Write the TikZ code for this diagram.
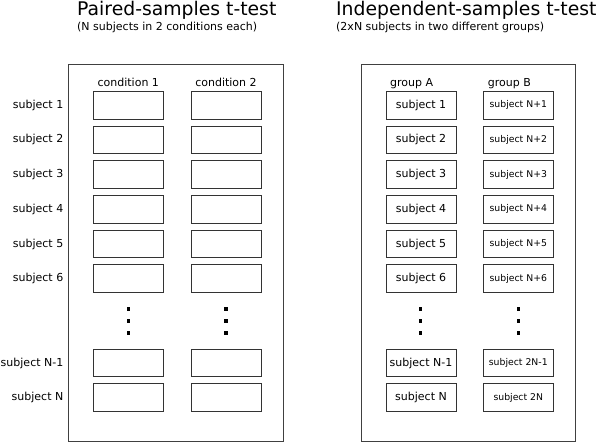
\documentclass[tikz,border=0pt]{standalone}
\usepackage{fontspec}
\setmainfont{DejaVu Sans}
\begin{document}
\begin{tikzpicture}[x=1pt,y=-1pt,
  frame/.style={draw=black!75,line width=0.9pt},
  cell/.style={draw=black!80,line width=0.9pt,minimum width=70pt,minimum height=27.7pt,inner sep=0pt,font=\fontsize{11}{13}\selectfont},
  smallcell/.style={cell,font=\fontsize{9.3}{11}\selectfont},
  rowlabel/.style={anchor=east,inner sep=0pt,font=\fontsize{11}{13}\selectfont},
  collabel/.style={anchor=base,inner sep=0pt,font=\fontsize{11}{13}\selectfont},
  grplabel/.style={anchor=base west,inner sep=0pt,font=\fontsize{11}{13}\selectfont},
  titletext/.style={anchor=base west,inner sep=0pt,font=\fontsize{18.8}{22}\selectfont},
  subtext/.style={anchor=base west,inner sep=0pt,font=\fontsize{11}{13}\selectfont},
  dotmark/.style={fill=black,minimum size=3.5pt,inner sep=0pt}]
\useasboundingbox (0,0) rectangle (600,443);
% titles
\node[titletext] (t1) at (77,15.5) {Paired-samples t-test};
\node[subtext] (s1) at (77,30.5) {(N subjects in 2 conditions each)};
\node[titletext] (t2) at (336,15.5) {Independent-samples t-test};
\node[subtext] (s2) at (336,30.5) {(2xN subjects in two different groups)};
% frames
\draw[frame] (68.7,64) rectangle (283.3,441.5);
\draw[frame] (361,64) rectangle (575.7,441.5);
% column labels
\node[collabel] (h1) at (128.3,86.5) {condition 1};
\node[collabel] (h2) at (226,86.5) {condition 2};
\node[grplabel] (hA) at (390,86.5) {group A};
\node[grplabel] (hB) at (487.7,86.5) {group B};
% rows
\foreach \k/\y/\a/\b in {1/105.2/1/N+1, 2/139.9/2/N+2, 3/174.6/3/N+3, 4/209.3/4/N+4, 5/244/5/N+5, 6/278.7/6/N+6, 7/363/N-1/2N-1, 8/397.7/N/2N}{
  \node[rowlabel] (l\k) at (63.5,\y) {subject \a};
  \node[cell] (p\k) at (128.3,\y) {};
  \node[cell] (q\k) at (226,\y) {};
  \node[cell] (a\k) at (421,\y) {subject \a};
  \node[smallcell] (b\k) at (518.3,\y) {subject \b};
}
% dots
\foreach \x/\n in {128.3/p, 226/q, 420.7/a, 518.3/b}{
  \node[dotmark] (\n d1) at (\x,309) {};
  \node[dotmark] (\n d2) at (\x,321) {};
  \node[dotmark] (\n d3) at (\x,333) {};
}
\end{tikzpicture}
\end{document}
